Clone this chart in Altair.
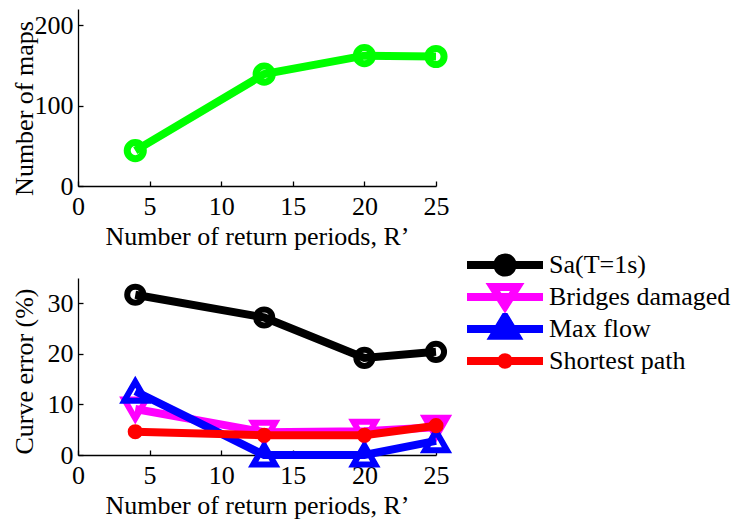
import altair as alt
import pandas as pd

# ---------------- data ----------------
R = [4, 13, 20, 25]
n_maps = [44, 139, 162, 161]

series = ["Sa(T=1s)", "Bridges damaged", "Max flow", "Shortest path"]
sa_err = [31.7, 27.2, 19.2, 20.4]
bridges_err = [9.1, 4.5, 4.7, 5.5]
maxflow_err = [12.6, 0.0, 0.0, 2.8]
shortest_err = [4.6, 3.9, 3.9, 5.8]

x_ticks = [0, 5, 10, 15, 20, 25]
maps_ticks = [0, 100, 200]
err_ticks = [0, 10, 20, 30]

# ---------------- styles ----------------
FONT = "Liberation Serif"
FS = 26
colors = ["#000000", "#ff00ff", "#0000ff", "#ff0000"]
markers = ["circle", "triangle-down", "triangle-up", "circle"]
marker_size = [260, 480, 480, 230]
marker_filled = [False, False, False, True]
legend_paths = [
    "M-1,0H1M0.2,0A0.2,0.2,0,1,1,-0.2,0A0.2,0.2,0,1,1,0.2,0Z",
    "M-1,0H1M-0.32,-0.26L0.32,-0.26L0,0.24Z",
    "M-1,0H1M-0.3,0.18L0.3,0.18L0,-0.32Z",
    "M-1,0H1M0.1,0A0.1,0.1,0,1,1,-0.1,0A0.1,0.1,0,1,1,0.1,0Z",
]

top_df = pd.DataFrame({"R": R, "maps": n_maps})
err_values = [sa_err, bridges_err, maxflow_err, shortest_err]
bot_df = pd.DataFrame(
    [{"R": r, "err": v, "Series": s} for s, vals in zip(series, err_values) for r, v in zip(R, vals)]
)


def x_enc():
    return alt.X(
        "R:Q",
        scale=alt.Scale(domain=[0, 25], nice=False, zero=False),
        axis=alt.Axis(
            values=x_ticks,
            title="Number of return periods, R’",
            tickSize=alt.ExprRef("-5"),
            labelPadding=12,
            titlePadding=4,
            labelFlush=False,
            labelOverlap=False,
        ),
    )


def y_axis(title, vals, ty):
    return alt.Axis(
        values=vals,
        title=title,
        tickSize=alt.ExprRef("-5"),
        labelPadding=10,
        labelFlush=False,
        labelOverlap=False,
        titleX=-41,
        titleY=ty,
        titleBaseline="bottom",
    )


W, H = 358, 177

# ---------------- top panel ----------------
top_base = alt.Chart(top_df).encode(
    x=x_enc(),
    y=alt.Y("maps:Q", scale=alt.Scale(domain=[0, 220], nice=False),
            axis=y_axis("Number of maps", maps_ticks, 99)),
)
top = (
    top_base.mark_line(color="#00ff00", strokeWidth=8)
    + top_base.mark_point(shape="circle", filled=False, size=260, strokeWidth=7, color="#00ff00", opacity=1)
).properties(width=W, height=H)

# ---------------- bottom panel ----------------
color_scale = alt.Scale(domain=series, range=colors)
ybot = alt.Y("err:Q", scale=alt.Scale(domain=[0, 35], nice=False),
             axis=y_axis("Curve error (%)", err_ticks, 93))

layers = []
for i, s in enumerate(series):
    b = alt.Chart(bot_df).transform_filter(alt.datum.Series == s).encode(
        x=x_enc(), y=ybot,
        color=alt.Color("Series:N", scale=color_scale, legend=None),
    )
    layers.append(b.mark_line(strokeWidth=8))
    if marker_filled[i]:
        layers.append(b.mark_point(shape=markers[i], filled=True, size=marker_size[i],
                                   strokeWidth=2, opacity=1))
    else:
        layers.append(b.mark_point(shape=markers[i], filled=False, size=marker_size[i],
                                   strokeWidth=6, opacity=1))

leg = alt.Legend(orient="none", legendX=385, legendY=-29,
                 symbolSize=5776, symbolStrokeWidth=8,
                 labelOffset=2, clipHeight=32, rowPadding=0,
                 padding=0, labelFont=FONT, labelFontSize=FS,
                 labelColor="#000000", labelLimit=400)

legend_layer = alt.Chart(bot_df).mark_point(
    filled=False, strokeWidth=8, opacity=0
).encode(
    x=x_enc(), y=ybot,
    color=alt.Color("Series:N", scale=color_scale, title=None, legend=leg),
    shape=alt.Shape("Series:N", scale=alt.Scale(domain=series, range=legend_paths), title=None, legend=leg),
)
layers.append(legend_layer)

bottom = (
    alt.layer(*layers)
    .resolve_legend(color="independent", shape="independent")
    .properties(width=W, height=H)
)

chart = (
    alt.vconcat(top, bottom, spacing=-2)
    .properties(padding={"left": 10, "top": 8, "right": 0, "bottom": 0})
    .configure(background="white", font=FONT,
               style={"guide-label": {"font": FONT, "fontSize": FS}})
    .configure_view(stroke="transparent")
    .configure_legend(labelFont=FONT, labelFontSize=FS, labelColor="#000000")
    .configure_axis(
        grid=False,
        domainColor="#000000",
        domainWidth=1.3,
        tickColor="#000000",
        tickWidth=1.3,
        labelColor="#000000",
        titleColor="#000000",
        labelFont=FONT,
        titleFont=FONT,
        labelFontSize=FS,
        titleFontSize=FS,
        titleFontWeight="normal",
    )
)

chart.save("out.html", embed_options={"renderer": "svg", "actions": False})
